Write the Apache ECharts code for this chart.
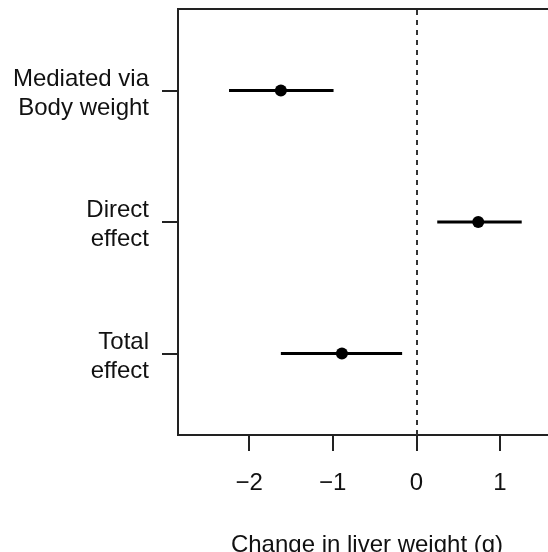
<!DOCTYPE html>
<html>
<head>
<meta charset="utf-8">
<script src="https://cdn.jsdelivr.net/npm/echarts@6/dist/echarts.min.js"></script>
<style>
  html, body { margin: 0; padding: 0; background: #fff; }
  #chart { width: 548px; height: 552px; }
</style>
</head>
<body>
<div id="chart"></div>
<script>
// Mediation estimates for liver weight change, with 95% intervals
const effectLabels = ['Mediated via\nBody weight', 'Direct\neffect', 'Total\neffect'];
const rowPos = [3, 2, 1];
const estimates = [-1.62, 0.74, -0.89];
const lowerCI = [-2.24, 0.25, -1.62];
const upperCI = [-0.99, 1.26, -0.17];
const xTicks = [-2, -1, 0, 1];

const FONT = 'Liberation Sans, Arial, Helvetica, sans-serif';
const chart = echarts.init(document.getElementById('chart'), null, { renderer: 'canvas' });

const intervalData = rowPos.map((y, i) => [lowerCI[i], upperCI[i], y]);
const pointData = rowPos.map((y, i) => [estimates[i], y]);

// Row label: a thin spacer line on top nudges the two text lines slightly below the tick
function rowLabel(v) {
  const txt = effectLabels[rowPos.indexOf(Math.round(v))];
  if (!txt) return '';
  return '{gap|}\n' + txt.split('\n').map(s => '{t|' + s + '}').join('\n');
}

chart.setOption({
  animation: false,
  backgroundColor: '#ffffff',
  grid: {
    left: 178, top: 9, width: 378, height: 426,
    outerBoundsMode: 'none', containLabel: false,
    show: true, borderColor: '#222', borderWidth: 2, backgroundColor: 'transparent'
  },
  xAxis: {
    type: 'value', min: -2.85, max: 1.67,
    axisLine: { show: false, onZero: false },
    splitLine: { show: false },
    axisTick: { show: true, customValues: xTicks, length: 16, lineStyle: { color: '#222', width: 2 } },
    axisLabel: {
      customValues: xTicks, margin: 36, fontSize: 24, fontFamily: FONT, color: '#111',
      formatter: v => (v < 0 ? '\u2212' + Math.abs(v) : String(v))
    },
    name: 'Change in liver weight (g)',
    nameLocation: 'middle', nameGap: 98,
    nameTextStyle: { fontSize: 24, fontFamily: FONT, color: '#111' }
  },
  yAxis: {
    type: 'value', min: 0.38, max: 3.62,
    axisLine: { show: false, onZero: false },
    splitLine: { show: false },
    axisTick: { show: true, customValues: rowPos, length: 16, lineStyle: { color: '#222', width: 2 } },
    axisLabel: {
      customValues: rowPos, margin: 29, align: 'right',
      formatter: rowLabel,
      rich: {
        gap: { lineHeight: 6, fontSize: 6, fontFamily: FONT, align: 'right' },
        t: { fontSize: 24, lineHeight: 29, fontFamily: FONT, color: '#111', align: 'right' }
      }
    }
  },
  series: [
    {
      type: 'custom',
      data: intervalData,
      encode: { x: [0, 1], y: 2 },
      renderItem: (params, api) => {
        const a = api.coord([api.value(0), api.value(2)]);
        const b = api.coord([api.value(1), api.value(2)]);
        return {
          type: 'line',
          shape: { x1: a[0], y1: a[1], x2: b[0], y2: b[1] },
          style: { stroke: '#000', lineWidth: 3 }
        };
      },
      z: 2
    },
    {
      type: 'scatter',
      data: pointData,
      symbol: 'circle', symbolSize: 12,
      itemStyle: { color: '#000', opacity: 1 },
      z: 3,
      markLine: {
        silent: true, symbol: 'none', label: { show: false },
        lineStyle: { color: '#333', type: [5, 5], width: 2 },
        data: [{ xAxis: 0 }]
      }
    }
  ]
});
</script>
</body>
</html>
